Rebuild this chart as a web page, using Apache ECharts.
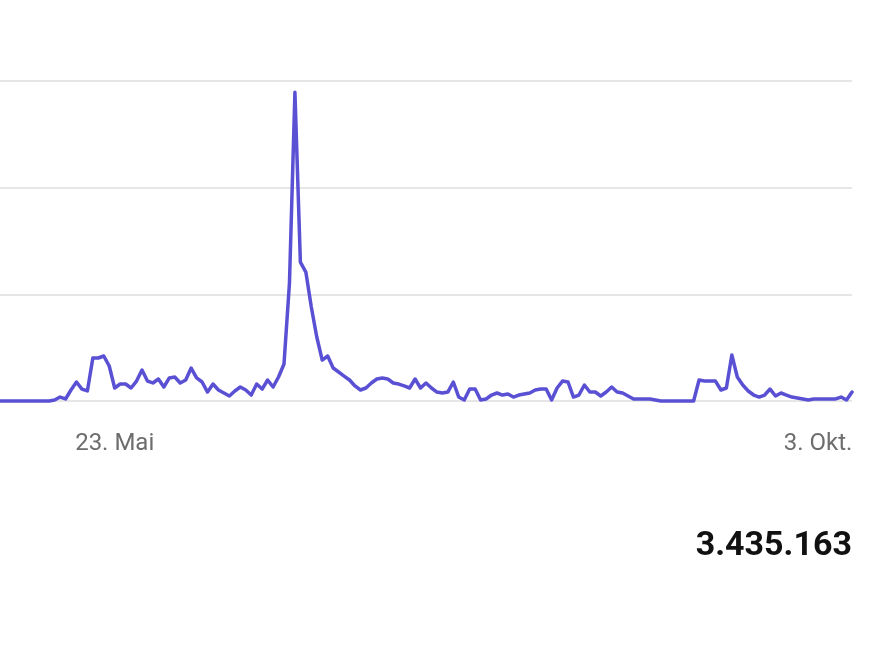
<!DOCTYPE html>
<html>
<head>
<meta charset="utf-8">
<script src="https://cdn.jsdelivr.net/npm/echarts@6/dist/echarts.min.js"></script>
<style>
  html, body { margin: 0; padding: 0; background: #ffffff; }
  #chart { width: 887px; height: 657px; }
</style>
</head>
<body>
<div id="chart"></div>
<script>
// Daily values, 2 May .. 5 Oct
const monthNames = ['Jan.', 'Feb.', 'März', 'Apr.', 'Mai', 'Juni', 'Juli', 'Aug.', 'Sept.', 'Okt.', 'Nov.', 'Dez.'];
const startDate = [2023, 4, 2]; // 2 May
const dayCount = 157;
const shownTickLabels = ['23. Mai', '3. Okt.'];
const totalLabel = '3.435.163';

const values = [
  0, 0, 0, 0, 0, 0, 0, 0, 0, 0,
  900, 3700, 1900, 10300, 17800, 11200, 9400, 40300, 40300, 42200,
  32800, 12200, 15900, 15900, 12200, 18700, 29000, 18700, 16900, 20600,
  13100, 21600, 22500, 16900, 19700, 30900, 21600, 17800, 8400, 15900,
  10300, 7500, 4700, 9400, 13100, 10300, 5600, 15900, 11200, 19700,
  13100, 22500, 34700, 110600, 289500, 130200, 120900, 88100, 60000, 38400,
  42200, 30900, 27200, 23400, 19700, 14100, 10300, 12200, 16900, 20600,
  21600, 20600, 16900, 15900, 14100, 12200, 20600, 12200, 16900, 12200,
  8400, 7500, 8400, 17800, 3700, 900, 11200, 11200, 900, 1900,
  5600, 7500, 5600, 6600, 3700, 5600, 6600, 7500, 10300, 11200,
  11200, 900, 12200, 18700, 17800, 3700, 5600, 15000, 8400, 8400,
  4700, 8400, 13100, 8400, 7500, 4700, 1900, 1900, 1900, 1900,
  900, 0, 0, 0, 0, 0, 0, 0, 19700, 18700,
  18700, 18700, 10300, 12200, 43100, 22500, 15000, 9400, 5600, 3700,
  5600, 11200, 4700, 7500, 5600, 3700, 2800, 1900, 900, 1900,
  1900, 1900, 1900, 1900, 3700, 900, 8400
];

const categories = [];
for (let i = 0; i < dayCount; i++) {
  const d = new Date(Date.UTC(startDate[0], startDate[1], startDate[2] + i));
  categories.push(d.getUTCDate() + '. ' + monthNames[d.getUTCMonth()]);
}

const lastTick = shownTickLabels[shownTickLabels.length - 1];

const chart = echarts.init(document.getElementById('chart'), null, { renderer: 'canvas' });
chart.setOption({
  animation: false,
  backgroundColor: '#ffffff',
  title: {
    text: totalLabel,
    right: 35,
    top: 529,
    padding: 0,
    textStyle: {
      fontFamily: 'Roboto',
      fontSize: 34,
      fontWeight: 'bold',
      color: '#111111'
    }
  },
  grid: { left: 0, right: 35, top: 81, bottom: 256 },
  xAxis: {
    type: 'category',
    data: categories,
    boundaryGap: false,
    axisLine: { show: false },
    axisTick: { show: false },
    splitLine: { show: false },
    axisLabel: {
      interval: function (index, value) { return shownTickLabels.indexOf(value) >= 0; },
      margin: 31,
      fontFamily: 'Roboto',
      fontSize: 24,
      color: '#6d6d6d',
      formatter: function (value) {
        return value === lastTick ? '{end|' + value + '}' : value;
      },
      rich: {
        end: {
          fontFamily: 'Roboto',
          fontSize: 24,
          color: '#6d6d6d',
          padding: [0, 46, 0, 0]
        }
      }
    }
  },
  yAxis: {
    type: 'value',
    min: 0,
    max: 300000,
    interval: 100000,
    axisLine: { show: false },
    axisTick: { show: false },
    axisLabel: { show: false },
    splitLine: { lineStyle: { color: '#dedede', width: 1.5 } }
  },
  series: [{
    type: 'line',
    data: values,
    showSymbol: false,
    symbol: 'none',
    lineStyle: { color: '#5a50d4', width: 3.5, join: 'round', cap: 'round' },
    clip: false
  }]
});
</script>
</body>
</html>
